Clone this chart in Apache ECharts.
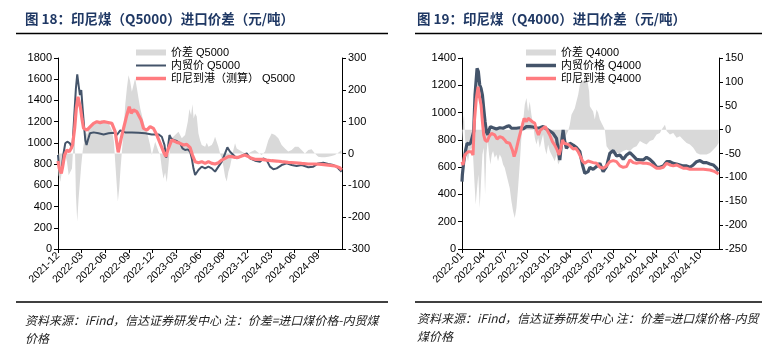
<!DOCTYPE html>
<html><head><meta charset="utf-8">
<script src="https://cdn.jsdelivr.net/npm/echarts@6/dist/echarts.min.js"></script>
<style>html,body{margin:0;padding:0;background:#fff}#c{width:782px;height:348px}</style>
</head><body><div id="c"></div>
<script>
// ---------- texts ----------
const titleLeft = '图 18：印尼煤（Q5000）进口价差（元/吨）';
const titleRight = '图 19：印尼煤（Q4000）进口价差（元/吨）';
const noteLeft = '资料来源：iFind，信达证券研发中心 注：价差=进口煤价格-内贸煤\n价格';
const noteRight = '资料来源：iFind，信达证券研发中心 注：价差=进口煤价格-内贸\n煤价格';
const namesLeft = ['价差 Q5000', '内贸价 Q5000', '印尼到港（测算） Q5000'];
const namesRight = ['价差 Q4000', '内贸价格 Q4000', '印尼到港 Q4000'];

// x tick labels (one per quarter; x values are months since the first label)
const xLabelsLeft = ['2021-12','2022-03','2022-06','2022-09','2022-12','2023-03','2023-06','2023-09','2023-12','2024-03','2024-06','2024-09'];
const xLabelsRight = ['2022-01','2022-04','2022-07','2022-10','2023-01','2023-04','2023-07','2023-10','2024-01','2024-04','2024-07','2024-10'];

// ---------- data: [months since start, value] ----------
const q5000Domestic = [[0,886],[0.16,744],[0.42,729],[0.67,886],[0.92,996],[1.18,1011],[1.51,996],[1.68,964],[1.85,986],[2.02,1200],[2.27,1514],[2.44,1646],[2.61,1545],[2.78,1451],[2.95,1498],[3.12,1325],[3.29,1168],[3.46,1027],[3.62,980],[3.79,1027],[4.05,1090],[4.51,1099],[5.14,1090],[5.78,1080],[6.41,1090],[7.04,1096],[7.46,1074],[7.89,1118],[8.52,1099],[9.36,1099],[10.21,1096],[11.05,1090],[11.89,1080],[12.74,1080],[13.16,1058],[13.5,980],[13.71,860],[13.92,949],[14.13,1074],[14.34,1043],[14.64,1027],[15.06,1018],[15.48,996],[15.78,949],[16.11,933],[16.45,939],[16.75,917],[16.96,854],[17.17,760],[17.38,697],[17.8,744],[18.22,776],[18.65,760],[19.07,776],[19.49,760],[19.91,729],[20.33,776],[20.76,823],[21.18,901],[21.47,958],[21.81,917],[22.23,886],[22.65,854],[23.08,870],[23.5,886],[23.92,901],[24.34,854],[24.97,832],[25.61,823],[26.03,854],[26.45,838],[26.87,776],[27.3,751],[27.72,760],[28.35,791],[28.98,807],[29.62,791],[30.25,782],[30.88,791],[31.73,770],[32.36,776],[32.99,807],[33.62,813],[34.26,801],[34.89,791],[35.31,776],[35.73,744],[35.95,729]];
const q5000Import = [[0,829],[0.16,760],[0.42,713],[0.59,776],[0.84,886],[1.14,933],[1.43,917],[1.68,949],[1.85,980],[2.11,1137],[2.32,1325],[2.53,1435],[2.7,1420],[2.86,1325],[3.03,1231],[3.24,1137],[3.46,1121],[3.67,1121],[4.09,1153],[4.51,1184],[4.93,1200],[5.35,1191],[5.78,1200],[6.2,1194],[6.83,1184],[7.04,1200],[7.25,1106],[7.46,996],[7.63,911],[8.01,1043],[8.31,1137],[8.73,1263],[9.03,1341],[9.28,1278],[9.57,1310],[9.99,1294],[10.21,1294],[10.54,1216],[10.84,1137],[11.26,1121],[11.68,1153],[12.1,1137],[12.53,1074],[12.95,996],[13.37,917],[13.67,870],[14,949],[14.42,1027],[15.06,1005],[15.48,996],[15.9,980],[16.32,986],[16.75,955],[17.04,886],[17.38,823],[17.8,813],[18.22,823],[18.65,807],[19.07,823],[19.49,807],[19.91,801],[20.33,813],[20.76,838],[21.18,854],[21.6,870],[22.02,870],[22.44,864],[22.87,864],[23.29,876],[23.71,886],[24.13,870],[24.55,854],[24.97,845],[25.4,845],[25.82,845],[26.45,838],[27.08,832],[27.72,829],[28.35,823],[29.19,816],[30.04,813],[30.88,807],[31.73,801],[32.57,801],[33.41,798],[34.26,791],[35.1,782],[35.73,766],[35.95,744]];
const q5000Spread = [[0,-36],[0.08,-68],[0.29,-89],[0.5,-57],[0.71,-26],[0.92,-5],[1.14,-26],[1.35,-68],[1.56,-68],[1.77,-47],[1.98,40],[2.06,110],[2.15,20],[2.27,-130],[2.44,-214],[2.61,-141],[2.78,-89],[2.95,-36],[3.12,6],[3.37,48],[3.54,68],[3.71,58],[3.88,79],[4.3,89],[4.72,95],[5.14,100],[5.56,105],[5.99,100],[6.41,95],[6.83,74],[7.09,37],[7.25,-26],[7.42,-89],[7.59,-151],[7.76,-109],[7.93,-47],[8.1,6],[8.31,68],[8.52,152],[8.73,205],[8.94,246],[9.15,226],[9.36,194],[9.57,215],[9.78,236],[10,205],[10.21,173],[10.42,142],[10.63,121],[10.84,100],[11.05,79],[11.26,68],[11.47,48],[11.68,26],[11.89,-5],[12.1,16],[12.32,37],[12.74,6],[12.95,-5],[13.16,-47],[13.37,-79],[13.58,-60],[13.79,-90],[14,-36],[14.21,26],[14.42,48],[14.85,58],[15.27,68],[15.69,48],[16.11,58],[16.45,100],[16.66,140],[16.87,120],[17.04,155],[17.2,110],[17.38,126],[17.59,116],[17.8,63],[18.01,42],[18.22,27],[18.43,32],[18.65,21],[18.86,34],[19.07,21],[19.49,27],[19.7,37],[19.91,53],[20.12,37],[20.33,21],[20.54,0],[20.76,-15],[20.97,-41],[21.18,-73],[21.39,-88],[21.6,-57],[21.81,-41],[22.02,-15],[22.23,11],[22.44,32],[22.65,16],[22.87,11],[23.29,6],[23.71,0],[24.13,0],[24.55,6],[24.97,11],[25.4,2],[25.82,-5],[26.24,6],[26.66,42],[27.08,63],[27.51,58],[27.93,48],[28.35,27],[28.77,16],[29.19,6],[29.62,11],[30.04,21],[30.46,21],[30.88,11],[31.3,0],[31.73,11],[32.15,13],[32.57,0],[32.99,-10],[33.41,-12],[33.84,-12],[34.26,-10],[34.68,-8],[35.1,-5],[35.52,2],[35.95,11]];

const q4000Domestic = [[0,494],[0.05,543],[0.24,640],[0.51,726],[0.7,775],[0.88,782],[1.07,767],[1.25,787],[1.44,775],[1.62,860],[1.81,1129],[2.09,1324],[2.27,1300],[2.46,1202],[2.64,1178],[2.83,1129],[3.01,1031],[3.2,933],[3.38,860],[3.57,836],[3.75,872],[3.94,897],[4.31,889],[4.77,880],[5.24,889],[5.7,885],[6.16,897],[6.53,904],[6.86,885],[7.09,880],[7.55,885],[8.01,889],[8.48,880],[8.94,897],[9.4,897],[9.87,894],[10.33,885],[10.79,889],[11.25,897],[11.72,880],[12.18,865],[12.64,848],[13.11,811],[13.38,714],[13.57,652],[13.8,775],[14.03,872],[14.26,787],[14.49,738],[14.96,775],[15.42,762],[15.88,743],[16.35,714],[16.72,616],[17.04,555],[17.5,567],[17.74,599],[18.2,584],[18.67,604],[19.13,628],[19.59,567],[20.05,604],[20.52,702],[20.98,721],[21.44,682],[21.91,689],[22.37,657],[22.83,689],[23.3,706],[23.76,682],[24.22,657],[24.68,653],[25.15,653],[25.61,672],[26.07,657],[26.54,633],[27,599],[27.46,599],[27.93,609],[28.39,640],[28.85,640],[29.31,628],[29.78,623],[30.24,616],[30.7,609],[31.17,609],[31.63,599],[32.09,616],[32.55,640],[33.02,648],[33.48,633],[33.94,633],[34.41,623],[34.87,616],[35.33,592],[35.6,572]];
const q4000Import = [[0,640],[0.14,616],[0.38,689],[0.61,701],[0.84,713],[1.07,701],[1.3,713],[1.53,689],[1.72,933],[1.99,1104],[2.23,1190],[2.46,1104],[2.64,1056],[2.83,933],[3.01,836],[3.2,799],[3.48,787],[3.75,823],[4.08,848],[4.54,836],[4.87,806],[5.24,823],[5.61,816],[5.93,799],[6.16,782],[6.62,775],[6.99,726],[7.23,677],[7.46,714],[7.78,787],[8.01,836],[8.38,909],[8.62,958],[8.94,933],[9.17,958],[9.4,946],[9.77,933],[10.1,921],[10.33,872],[10.61,836],[10.88,872],[11.25,885],[11.53,897],[11.81,872],[12.18,836],[12.55,787],[12.87,762],[13.2,726],[13.48,689],[13.71,738],[13.94,799],[14.17,775],[14.4,762],[14.73,767],[15.1,750],[15.42,733],[15.79,738],[16.11,714],[16.44,677],[16.72,645],[17.04,628],[17.5,645],[17.74,653],[18.2,633],[18.67,628],[19.13,599],[19.59,592],[20.05,609],[20.52,640],[20.98,648],[21.44,640],[21.91,609],[22.37,599],[22.83,604],[23.3,653],[23.76,633],[24.22,628],[24.68,633],[25.15,628],[25.61,628],[26.07,623],[26.54,609],[27,592],[27.46,592],[27.93,599],[28.39,628],[28.85,616],[29.31,609],[29.78,616],[30.24,604],[30.7,592],[31.17,592],[31.63,584],[32.55,584],[33.48,584],[34.41,579],[35.1,567],[35.6,550]];
const q4000Spread = [[0,0],[0.05,-31],[0.14,17],[0.28,31],[0.42,-17],[0.61,-52],[0.84,-66],[1.07,-45],[1.3,-38],[1.53,-52],[1.72,-108],[1.9,-157],[2.09,-122],[2.27,-94],[2.46,-164],[2.64,-108],[2.83,-52],[3.01,-38],[3.2,-136],[3.38,-52],[3.57,-24],[3.75,-52],[3.94,-73],[4.13,-52],[4.31,-45],[4.54,-59],[4.77,-52],[5,-66],[5.24,-52],[5.47,-59],[5.7,-73],[5.93,-80],[6.16,-94],[6.39,-108],[6.62,-122],[6.86,-150],[7.09,-171],[7.32,-185],[7.55,-164],[7.78,-122],[8.01,-73],[8.24,-17],[8.48,17],[8.71,52],[8.94,66],[9.17,38],[9.4,59],[9.63,31],[9.87,10],[10.1,-17],[10.33,-31],[10.56,-17],[10.79,-38],[11.02,-24],[11.25,-10],[11.49,-38],[11.72,-52],[11.95,-31],[12.18,-45],[12.41,-52],[12.64,-59],[12.87,-66],[13.11,-52],[13.34,-73],[13.57,-66],[13.8,-3],[14.03,-7],[14.26,-17],[14.49,-10],[14.73,-3],[14.96,10],[15.19,31],[15.42,38],[15.65,45],[15.88,59],[16.12,73],[16.35,94],[16.58,105],[16.81,100],[17.04,110],[17.18,115],[17.37,105],[17.64,80],[17.74,49],[18.2,38],[18.43,21],[18.67,42],[18.9,35],[19.13,21],[19.36,14],[19.59,7],[19.82,0],[20.06,-35],[20.52,-45],[20.98,-49],[21.44,-49],[21.91,-49],[22.37,-45],[22.83,-42],[23.3,-45],[23.76,-38],[24.22,-35],[24.69,-24],[25.15,-28],[25.61,-31],[26.07,-24],[26.54,-21],[27,-10],[27.46,-7],[27.69,0],[28.16,10],[28.39,-3],[28.85,-10],[29.31,-7],[29.78,-17],[30.24,-14],[30.7,-21],[31.17,-28],[31.63,-31],[32.09,-38],[32.56,-49],[33.02,-52],[33.48,-52],[33.94,-52],[34.41,-49],[34.87,-42],[35.33,-35],[35.6,-28]];

// ---------- styles ----------
const NAVY = '#44546a', SALMON = '#ff7c80', GRAY = '#d9d9d9', TITLE = '#1f3864';
const AXF = '"Liberation Sans", Arial, sans-serif';
const CJK = '"Liberation Sans", "Noto Sans CJK SC", sans-serif';
const quarterTicks = xLabelsLeft.map((_, i) => i * 3);

function xAxis(grid, labels, max) {
  return {
    type: 'value', gridIndex: grid, min: 0, max: max,
    axisLine: { lineStyle: { color: '#000', width: 1 } },
    axisTick: { show: true, length: 4, customValues: quarterTicks, lineStyle: { color: '#000' } },
    splitLine: { show: false },
    axisLabel: {
      customValues: quarterTicks, rotate: 45, margin: 5, color: '#000', fontSize: 10.5, fontFamily: AXF,
      formatter: v => { const i = Math.round(v / 3); return (Math.abs(v - i * 3) < 1e-6 && i < labels.length) ? labels[i] : ''; }
    }
  };
}
function yAxis(grid, pos, min, max, interval) {
  return {
    type: 'value', gridIndex: grid, position: pos, min: min, max: max, interval: interval,
    axisLine: { show: true, lineStyle: { color: '#000', width: 1 } },
    axisTick: { show: true, length: 4, lineStyle: { color: '#000' } },
    splitLine: { show: false },
    axisLabel: { color: '#000', fontSize: 11, fontFamily: AXF, margin: 6, formatter: v => String(v) }
  };
}
function areaSeries(name, data, xi, yi) {
  return { name, type: 'line', xAxisIndex: xi, yAxisIndex: yi, data, symbol: 'none', color: GRAY,
    lineStyle: { width: 0, color: GRAY }, areaStyle: { color: GRAY, opacity: 1 }, z: 1, animation: false };
}
function lineSeries(name, data, xi, yi, color, width, z) {
  return { name, type: 'line', xAxisIndex: xi, yAxisIndex: yi, data, symbol: 'none', color,
    lineStyle: { width, color }, z, animation: false };
}
function legend(names, left, w1, w2) {
  return {
    orient: 'vertical', left, top: 46.5, itemWidth: 30, itemHeight: 6, itemGap: 1, padding: 0,
    symbolKeepAspect: true,
    textStyle: { fontSize: 11, color: '#000', fontFamily: CJK, lineHeight: 12 },
    data: [
      { name: names[0], icon: 'rect' },
      { name: names[1], icon: 'path://M0 0H30V' + w1 + 'H0Z' },
      { name: names[2], icon: 'path://M0 0H30V' + w2 + 'H0Z' }
    ],
    selectedMode: false
  };
}

const chart = echarts.init(document.getElementById('c'), null, { renderer: 'canvas' });
chart.setOption({
  animation: false,
  backgroundColor: '#fff',
  grid: [
    { left: 58, top: 58, width: 284, height: 191 },
    { left: 462, top: 58, width: 257, height: 191 }
  ],
  xAxis: [xAxis(0, xLabelsLeft, 36), xAxis(1, xLabelsRight, 35.66)],
  yAxis: [
    yAxis(0, 'left', 0, 1800, 200), yAxis(0, 'right', -300, 300, 100),
    yAxis(1, 'left', 0, 1400, 200), yAxis(1, 'right', -250, 150, 50)
  ],
  legend: [legend(namesLeft, 136, 2, 3.5), legend(namesRight, 526, 3.5, 3.5)],
  series: [
    areaSeries(namesLeft[0], q5000Spread, 0, 1),
    lineSeries(namesLeft[1], q5000Domestic, 0, 0, NAVY, 2, 3),
    lineSeries(namesLeft[2], q5000Import, 0, 0, SALMON, 3.2, 4),
    areaSeries(namesRight[0], q4000Spread, 1, 3),
    lineSeries(namesRight[1], q4000Domestic, 1, 2, NAVY, 3.2, 3),
    lineSeries(namesRight[2], q4000Import, 1, 2, SALMON, 3, 4)
  ],
  graphic: [
    { type: 'text', left: 25, top: 12.5, style: { text: titleLeft, fontSize: 13.5, fontWeight: 'bold', fill: TITLE, fontFamily: '"Noto Sans CJK SC", sans-serif' } },
    { type: 'text', left: 417, top: 12.5, style: { text: titleRight, fontSize: 13.5, fontWeight: 'bold', fill: TITLE, fontFamily: '"Noto Sans CJK SC", sans-serif' } },
    { type: 'line', shape: { x1: 16, y1: 33.5, x2: 388, y2: 33.5 }, style: { stroke: '#000', lineWidth: 1.3 } },
    { type: 'line', shape: { x1: 415, y1: 33.5, x2: 762, y2: 33.5 }, style: { stroke: '#000', lineWidth: 1.3 } },
    { type: 'line', shape: { x1: 16, y1: 302, x2: 388, y2: 302 }, style: { stroke: '#000', lineWidth: 1.3 } },
    { type: 'line', shape: { x1: 415, y1: 302, x2: 762, y2: 302 }, style: { stroke: '#000', lineWidth: 1.3 } },
    { type: 'text', left: 25, top: 311, style: { text: noteLeft, fontSize: 12, fontStyle: 'italic', fill: '#222', lineHeight: 18, fontFamily: '"Noto Sans CJK SC", sans-serif' } },
    { type: 'text', left: 417, top: 309, style: { text: noteRight, fontSize: 12, fontStyle: 'italic', fill: '#222', lineHeight: 18, fontFamily: '"Noto Sans CJK SC", sans-serif' } }
  ]
});
</script></body></html>
